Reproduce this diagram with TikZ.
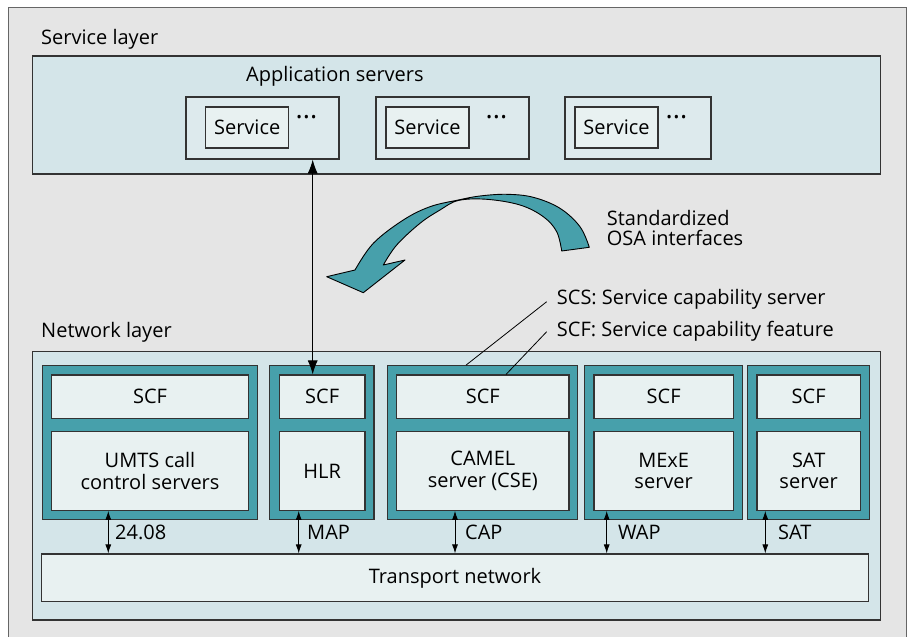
\documentclass[tikz,border=0pt]{standalone}
\usepackage{fontspec}
\setmainfont{Open Sans}
\usetikzlibrary{arrows.meta}
\definecolor{framegray}{HTML}{E5E5E5}
\definecolor{layerblue}{HTML}{D4E5E9}
\definecolor{asblue}{HTML}{DDEAED}
\definecolor{paleblue}{HTML}{E8F1F1}
\definecolor{teal}{HTML}{47A0AB}
\tikzset{
  lbl/.style={inner sep=0pt, font=\fontsize{20}{21.4}\selectfont},
  plate/.style={draw=black!80, line width=1.1pt, inner sep=0pt, anchor=center},
  layer/.style={plate, fill=layerblue},
  asbox/.style={plate, fill=asblue},
  pale/.style={plate, fill=paleblue, align=center, font=\fontsize{20}{21.4}\selectfont},
  tealbox/.style={plate, fill=teal},
  more/.style={inner sep=0pt, font=\fontsize{27}{27}\selectfont},
  link/.style={line width=0.9pt, {Latex[length=14pt,width=10pt]}-{Latex[length=14pt,width=10pt]}},
  iface/.style={line width=0.9pt, {Latex[length=9pt,width=6pt]}-{Latex[length=9pt,width=6pt]}},
  leader/.style={line width=0.8pt},
  swoosh/.style={draw=black, line width=0.9pt, fill=teal, line join=round}
}
\begin{document}
\begin{tikzpicture}[x=1pt,y=-1pt]
\useasboundingbox (0,0) rectangle (911,637);
\fill[white] (0,0) rectangle (911,637);
\clip (0,0) rectangle (911,637);
% outer frame
\draw[draw=black!60, line width=1pt, fill=framegray] (8,7) rectangle (906.7,660);

% ---- service layer ----
\node[lbl, anchor=base west] (svctitle) at (41,45) {Service layer};
\node[layer, minimum width=848pt, minimum height=118pt] (svc) at (456.7,115) {};
\node[lbl, anchor=base west] (astitle) at (246,81) {Application servers};

\node[asbox, minimum width=153pt, minimum height=62pt] (as1) at (262.5,128) {};
\node[asbox, minimum width=153pt, minimum height=62pt] (as2) at (452.5,128) {};
\node[asbox, minimum width=146pt, minimum height=62pt] (as3) at (638,128) {};
\node[pale, minimum width=83pt, minimum height=41pt] (s1) at (247.2,127.5) {Service};
\node[pale, minimum width=83pt, minimum height=41pt] (s2) at (427.5,127.5) {Service};
\node[pale, minimum width=83pt, minimum height=41pt] (s3) at (616.5,127.5) {Service};
\node[more] (d1) at (306.5,117.3) {...};
\node[more] (d2) at (496.5,117.3) {...};
\node[more] (d3) at (676.5,117.3) {...};

% ---- OSA swoosh ----
\path[swoosh]
  plot[smooth, tension=0.6] coordinates {(589.3,247.3) (580,226.7) (560,208.3) (533.3,197.3) (506.7,194.3) (480,196) (458.3,200) (430,206.7) (403.3,220) (373.3,243.3) (355,270)}
  -- (326.7,276.7) -- (363.3,292.7) -- (405,260) -- (383.3,265)
  -- plot[smooth, tension=0.6] coordinates {(383.3,265) (396.7,245) (420,223.3) (440,210) (458.3,200.5) (486.7,199.3) (520,205) (543.3,216.7) (556.7,231.7) (561.7,251)}
  -- cycle;
\node[lbl, anchor=base west] (osa1) at (606.7,225) {Standardized};
\node[lbl, anchor=base west] (osa2) at (606.7,245.7) {OSA interfaces};

% ---- legend ----
\node[lbl, anchor=base west] (scs) at (556.7,304) {SCS: Service capability server};
\node[lbl, anchor=base west] (scfl) at (556.7,336) {SCF: Service capability feature};

% ---- network layer ----
\node[lbl, anchor=base west] (nettitle) at (41,337) {Network layer};
\node[layer, minimum width=848pt, minimum height=268.3pt] (net) at (456.7,485.85) {};

\node[tealbox, minimum width=214.6pt, minimum height=153.6pt] (t1) at (150,442.5) {};
\node[tealbox, minimum width=104.3pt, minimum height=153.6pt] (t2) at (321.85,442.5) {};
\node[tealbox, minimum width=190pt, minimum height=153.6pt] (t3) at (482.3,442.5) {};
\node[tealbox, minimum width=158pt, minimum height=153.6pt] (t4) at (663.3,442.5) {};
\node[tealbox, minimum width=122pt, minimum height=153.6pt] (t5) at (808.3,442.5) {};

\node[pale, minimum width=196.6pt, minimum height=43.3pt] (f1) at (150,396.65) {SCF};
\node[pale, minimum width=85.7pt, minimum height=43.3pt] (f2) at (322.15,396.65) {SCF};
\node[pale, minimum width=172.3pt, minimum height=43.3pt] (f3) at (482.85,396.65) {SCF};
\node[pale, minimum width=139.3pt, minimum height=43.3pt] (f4) at (663.65,396.65) {SCF};
\node[pale, minimum width=103.3pt, minimum height=43.3pt] (f5) at (808.65,396.65) {SCF};

\node[pale, minimum width=196.6pt, minimum height=78.6pt] (u1) at (150,471) {UMTS call\\control servers};
\node[pale, minimum width=85.7pt, minimum height=78.6pt] (u2) at (322.15,471) {HLR};
\node[pale, minimum width=172.3pt, minimum height=78.6pt] (u3) at (482.85,471) {CAMEL\\server (CSE)};
\node[pale, minimum width=139.3pt, minimum height=78.6pt] (u4) at (663.65,471) {MExE\\server};
\node[pale, minimum width=103.3pt, minimum height=78.6pt] (u5) at (808.65,471) {SAT\\server};

\node[pale, minimum width=827.4pt, minimum height=47.7pt] (tn) at (455,577.85) {Transport network};

% ---- links ----
\coordinate (ax) at (312.7,0);
\draw[link] (as1.south -| ax) -- (f2.north -| ax);

\coordinate (k1) at (108.3,0);
\coordinate (k2) at (298.7,0);
\coordinate (k3) at (455,0);
\coordinate (k4) at (606.7,0);
\coordinate (k5) at (765.3,0);
\draw[iface] (u1.south -| k1) -- (tn.north -| k1);
\draw[iface] (u2.south -| k2) -- (tn.north -| k2);
\draw[iface] (u3.south -| k3) -- (tn.north -| k3);
\draw[iface] (u4.south -| k4) -- (tn.north -| k4);
\draw[iface] (u5.south -| k5) -- (tn.north -| k5);
\node[lbl, anchor=base west] (i1) at (115,539) {24.08};
\node[lbl, anchor=base west] (i2) at (307,539) {MAP};
\node[lbl, anchor=base west] (i3) at (465,539) {CAP};
\node[lbl, anchor=base west] (i4) at (618,539) {WAP};
\node[lbl, anchor=base west] (i5) at (778,539) {SAT};

% ---- legend leaders ----
\coordinate (e1) at (546.7,301.7);
\coordinate (e2) at (546.7,331.7);
\coordinate (m1) at (466,0);
\coordinate (m2) at (506,0);
\draw[leader] (e1) -- (t3.north -| m1);
\draw[leader] (e2) -- (f3.north -| m2);
\end{tikzpicture}
\end{document}
